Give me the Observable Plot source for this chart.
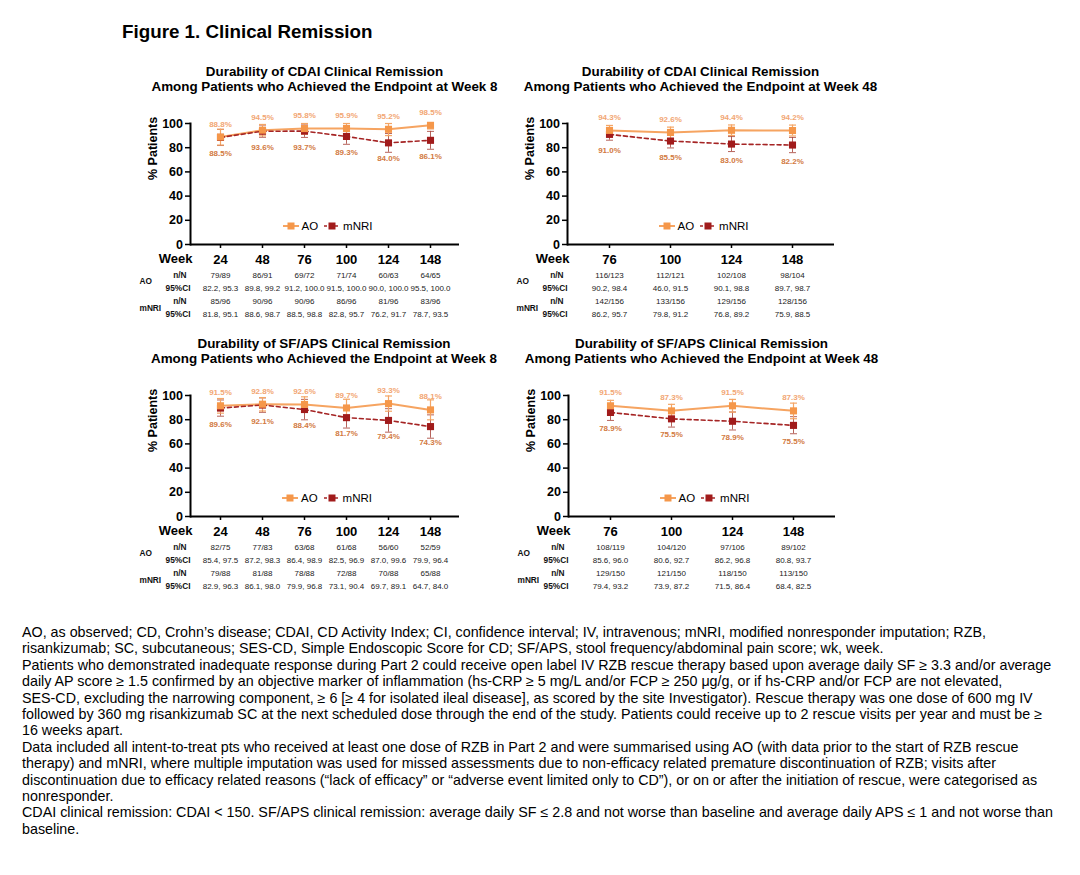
<!DOCTYPE html>
<html><head><meta charset="utf-8">
<script src="https://cdn.jsdelivr.net/npm/d3@7"></script>
<script src="https://cdn.jsdelivr.net/npm/@observablehq/plot@0.6"></script>
<style>
body{margin:0;background:#fff;font-family:"Liberation Sans",Arial,sans-serif;color:#000;}
#root{position:relative;width:1080px;height:875px;overflow:hidden;background:#fff;}
.abs{position:absolute;}
.fig-title{font-size:18.8px;font-weight:bold;line-height:22px;white-space:nowrap}
.ptitle{font-size:13.4px;font-weight:bold;line-height:15px;text-align:center;white-space:nowrap;transform:translateX(-50%)}
.legend{font-size:11.5px;display:flex;align-items:center;white-space:nowrap;transform:translate(-50%,-50%)}
.legend span{margin:0 6px 0 3px}
.notes{font-size:14.3px;line-height:16.4px;white-space:nowrap}
svg [aria-label="x-axis tick label"] text, svg [aria-label="y-axis tick label"] text{font-weight:bold}
</style></head><body><div id="root"></div>
<script>
// ---------- DATA ----------
const figureTitle = "Figure 1. Clinical Remission";

// Panel A: CDAI, achieved at week 8
const cdaiW8Title = ["Durability of CDAI Clinical Remission", "Among Patients who Achieved the Endpoint at Week 8"];
const cdaiW8Weeks = [24, 48, 76, 100, 124, 148];
const cdaiW8AO = [88.8, 94.5, 95.8, 95.9, 95.2, 98.5];
const cdaiW8AOLow = [82.2, 89.8, 91.2, 91.5, 90.0, 95.5];
const cdaiW8AOHigh = [95.3, 99.2, 100, 100, 100, 100];
const cdaiW8MNRI = [88.5, 93.6, 93.7, 89.3, 84.0, 86.1];
const cdaiW8MNRILow = [81.8, 88.6, 88.5, 82.8, 76.2, 78.7];
const cdaiW8MNRIHigh = [95.1, 98.7, 98.8, 95.7, 91.7, 93.5];
const cdaiW8AOnN = ["79/89", "86/91", "69/72", "71/74", "60/63", "64/65"];
const cdaiW8AOCI = ["82.2, 95.3", "89.8, 99.2", "91.2, 100.0", "91.5, 100.0", "90.0, 100.0", "95.5, 100.0"];
const cdaiW8MNRInN = ["85/96", "90/96", "90/96", "86/96", "81/96", "83/96"];
const cdaiW8MNRICI = ["81.8, 95.1", "88.6, 98.7", "88.5, 98.8", "82.8, 95.7", "76.2, 91.7", "78.7, 93.5"];

// Panel B: CDAI, achieved at week 48
const cdaiW48Title = ["Durability of CDAI Clinical Remission", "Among Patients who Achieved the Endpoint at Week 48"];
const cdaiW48Weeks = [76, 100, 124, 148];
const cdaiW48AO = [94.3, 92.6, 94.4, 94.2];
const cdaiW48AOLow = [90.2, 86.5, 90.1, 89.7];
const cdaiW48AOHigh = [98.4, 97.0, 98.8, 98.7];
const cdaiW48MNRI = [91.0, 85.5, 83.0, 82.2];
const cdaiW48MNRILow = [86.2, 79.8, 76.8, 75.9];
const cdaiW48MNRIHigh = [95.7, 91.2, 89.2, 88.5];
const cdaiW48AOnN = ["116/123", "112/121", "102/108", "98/104"];
const cdaiW48AOCI = ["90.2, 98.4", "46.0, 91.5", "90.1, 98.8", "89.7, 98.7"];
const cdaiW48MNRInN = ["142/156", "133/156", "129/156", "128/156"];
const cdaiW48MNRICI = ["86.2, 95.7", "79.8, 91.2", "76.8, 89.2", "75.9, 88.5"];

// Panel C: SF/APS, achieved at week 8
const sfW8Title = ["Durability of SF/APS Clinical Remission", "Among Patients who Achieved the Endpoint at Week 8"];
const sfW8Weeks = [24, 48, 76, 100, 124, 148];
const sfW8AO = [91.5, 92.8, 92.6, 89.7, 93.3, 88.1];
const sfW8AOLow = [85.4, 87.2, 86.4, 82.5, 87.0, 79.9];
const sfW8AOHigh = [97.5, 98.3, 98.9, 96.9, 99.6, 96.4];
const sfW8MNRI = [89.6, 92.1, 88.4, 81.7, 79.4, 74.3];
const sfW8MNRILow = [82.9, 86.1, 79.9, 73.1, 69.7, 64.7];
const sfW8MNRIHigh = [96.3, 98.0, 96.8, 90.4, 89.1, 84.0];
const sfW8AOnN = ["82/75", "77/83", "63/68", "61/68", "56/60", "52/59"];
const sfW8AOCI = ["85.4, 97.5", "87.2, 98.3", "86.4, 98.9", "82.5, 96.9", "87.0, 99.6", "79.9, 96.4"];
const sfW8MNRInN = ["79/88", "81/88", "78/88", "72/88", "70/88", "65/88"];
const sfW8MNRICI = ["82.9, 96.3", "86.1, 98.0", "79.9, 96.8", "73.1, 90.4", "69.7, 89.1", "64.7, 84.0"];

// Panel D: SF/APS, achieved at week 48
const sfW48Title = ["Durability of SF/APS Clinical Remission", "Among Patients who Achieved the Endpoint at Week 48"];
const sfW48Weeks = [76, 100, 124, 148];
const sfW48AO = [91.5, 87.3, 91.5, 87.3];
const sfW48AOLow = [85.6, 80.6, 86.2, 80.8];
const sfW48AOHigh = [96.0, 92.7, 96.8, 93.7];
const sfW48MNRI = [86.0, 80.7, 78.7, 75.3];
const sfW48MNRILabels = ["78.9%", "75.5%", "78.9%", "75.5%"];
const sfW48MNRILow = [79.4, 73.9, 71.5, 68.4];
const sfW48MNRIHigh = [93.2, 87.2, 86.4, 82.5];
const sfW48AOnN = ["108/119", "104/120", "97/106", "89/102"];
const sfW48AOCI = ["85.6, 96.0", "80.6, 92.7", "86.2, 96.8", "80.8, 93.7"];
const sfW48MNRInN = ["129/150", "121/150", "118/150", "113/150"];
const sfW48MNRICI = ["79.4, 93.2", "73.9, 87.2", "71.5, 86.4", "68.4, 82.5"];

const yTicks = [0, 20, 40, 60, 80, 100];
const seriesNames = ["AO", "mNRI"];

const footnotes = [
  "AO, as observed; CD, Crohn’s disease; CDAI, CD Activity Index; CI, confidence interval; IV, intravenous; mNRI, modified nonresponder imputation; RZB,",
  "risankizumab; SC, subcutaneous; SES-CD, Simple Endoscopic Score for CD; SF/APS, stool frequency/abdominal pain score; wk, week.",
  "Patients who demonstrated inadequate response during Part 2 could receive open label IV RZB rescue therapy based upon average daily SF ≥ 3.3 and/or average",
  "daily AP score ≥ 1.5 confirmed by an objective marker of inflammation (hs-CRP ≥ 5 mg/L and/or FCP ≥ 250 μg/g, or if hs-CRP and/or FCP are not elevated,",
  "SES-CD, excluding the narrowing component, ≥ 6 [≥ 4 for isolated ileal disease], as scored by the site Investigator). Rescue therapy was one dose of 600 mg IV",
  "followed by 360 mg risankizumab SC at the next scheduled dose through the end of the study. Patients could receive up to 2 rescue visits per year and must be ≥",
  "16 weeks apart.",
  "Data included all intent-to-treat pts who received at least one dose of RZB in Part 2 and were summarised using AO (with data prior to the start of RZB rescue",
  "therapy) and mNRI, where multiple imputation was used for missed assessments due to non-efficacy related premature discontinuation of RZB; visits after",
  "discontinuation due to efficacy related reasons (“lack of efficacy” or “adverse event limited only to CD”), or on or after the initiation of rescue, were categorised as",
  "nonresponder.",
  "CDAI clinical remission: CDAI < 150. SF/APS clinical remission: average daily SF ≤ 2.8 and not worse than baseline and average daily APS ≤ 1 and not worse than",
  "baseline."
];

// ---------- STYLE ----------
const AO_C = "#F5974A", AO_LINE = "#F6A461", AO_BAR = "#F4A666", AO_TXT = "#F2A673";
const MN_C = "#A11B1B", MN_LINE = "#A52424", MN_BAR = "#A9483E", MN_TXT = "#D27A3F";
const FONT = "'Liberation Sans', Arial, sans-serif";

const root = document.getElementById("root");
function addDiv(cls, left, top, html) {
  const d = document.createElement("div");
  d.className = "abs " + cls;
  d.style.left = left + "px"; d.style.top = top + "px";
  d.innerHTML = html;
  root.appendChild(d);
  return d;
}
addDiv("fig-title", 122, 21, figureTitle);

const capSymbol = {draw(ctx, size) { const w = Math.sqrt(size / Math.PI); ctx.moveTo(-w, 0); ctx.lineTo(w, 0); }};

function legendHTML() {
  const aoMark = `<svg width="16" height="10"><line x1="0" y1="5" x2="16" y2="5" stroke="${AO_LINE}" stroke-width="2"/><rect x="4.5" y="1.5" width="7" height="7" fill="${AO_C}"/></svg>`;
  const mnMark = `<svg width="16" height="10"><line x1="0" y1="5" x2="16" y2="5" stroke="${MN_LINE}" stroke-width="1.5" stroke-dasharray="3,2.5"/><rect x="4.5" y="1.5" width="7" height="7" fill="${MN_C}"/></svg>`;
  return `${aoMark}<span>${seriesNames[0]}</span>${mnMark}<span>${seriesNames[1]}</span>`;
}

function panel(cfg) {
  const {left, top, marginRight, title, weeks, ao, aoLo, aoHi, mn, mnLo, mnHi, aoNN, aoCI, mnNN, mnCI} = cfg;
  const aoLab = cfg.aoLabels || ao.map(v => v.toFixed(1) + "%");
  const mnLab = cfg.mnLabels || mn.map(v => v.toFixed(1) + "%");
  const rows = weeks.map((w, i) => ({week: w, ao: ao[i], aoLo: aoLo[i], aoHi: aoHi[i], mn: mn[i], mnLo: mnLo[i], mnHi: mnHi[i],
    aoLab: aoLab[i], mnLab: mnLab[i], aoNN: aoNN[i], aoCI: aoCI[i], mnNN: mnNN[i], mnCI: mnCI[i]}));
  const W = 400, mL = 90, mT = 28, mB = 84, frameH = 121, H = mT + frameH + mB;
  const tbl = {fontSize: 8, fontWeight: "normal", fill: "#222", frameAnchor: "bottom"};
  const lbl = {fontSize: 8.3, fontWeight: "bold", fill: "#111", frameAnchor: "bottom-left"};
  const chart = Plot.plot({
    width: W, height: H, marginLeft: mL, marginRight, marginTop: mT, marginBottom: mB,
    style: {fontFamily: FONT, overflow: "visible", background: "transparent"},
    x: {type: "point", domain: weeks, padding: 0.68},
    y: {domain: [0, 100]},
    marks: [
      Plot.axisY({ticks: yTicks, tickSize: 5, tickPadding: 2.5, fontSize: 12.5, fontWeight: "bold", strokeWidth: 1.5, label: null, fill: "#000"}),
      Plot.axisX({tickSize: 4, tickPadding: 6.5, fontSize: 13, fontWeight: "bold", strokeWidth: 1.5, label: null, fill: "#000"}),
      Plot.frame({anchor: "left", stroke: "#000", strokeWidth: 2}),
      Plot.ruleY([0], {stroke: "#000", strokeWidth: 2}),
      Plot.text(["% Patients"], {text: d => d, frameAnchor: "left", rotate: -90, dx: -38, dy: -4, fontSize: 12.5, fontWeight: "bold", fill: "#000"}),
      // error bars
      Plot.ruleX(rows, {x: "week", y1: "mnLo", y2: "mnHi", stroke: MN_BAR, strokeWidth: 1, strokeOpacity: 0.85}),
      Plot.dot(rows, {x: "week", y: "mnLo", symbol: capSymbol, r: 3.5, fill: "none", stroke: MN_BAR, strokeWidth: 1, strokeOpacity: 0.85}),
      Plot.dot(rows, {x: "week", y: "mnHi", symbol: capSymbol, r: 3.5, fill: "none", stroke: MN_BAR, strokeWidth: 1, strokeOpacity: 0.85}),
      Plot.ruleX(rows, {x: "week", y1: "aoLo", y2: "aoHi", stroke: AO_BAR, strokeWidth: 1.2}),
      Plot.dot(rows, {x: "week", y: "aoLo", symbol: capSymbol, r: 3.5, fill: "none", stroke: AO_BAR, strokeWidth: 1.2}),
      Plot.dot(rows, {x: "week", y: "aoHi", symbol: capSymbol, r: 3.5, fill: "none", stroke: AO_BAR, strokeWidth: 1.2}),
      // lines
      Plot.line(rows, {x: "week", y: "ao", stroke: AO_LINE, strokeWidth: 2}),
      Plot.line(rows, {x: "week", y: "mn", stroke: MN_LINE, strokeWidth: 1.6, strokeDasharray: "4,3"}),
      Plot.dot(rows, {x: "week", y: "mn", symbol: "square", r: 4, fill: MN_C}),
      Plot.dot(rows, {x: "week", y: "ao", symbol: "square", r: 4, fill: AO_C}),
      // value labels
      Plot.text(rows, {x: "week", y: "ao", text: "aoLab", dy: -13, fontSize: 8, fontWeight: "bold", fill: AO_TXT}),
      Plot.text(rows, {x: "week", y: "mn", text: "mnLab", dy: 16, fontSize: 8, fontWeight: "bold", fill: MN_TXT}),
      // table below axis
      Plot.text(["Week"], {text: d => d, frameAnchor: "bottom-left", textAnchor: "end", dx: 2, dy: 18, fontSize: 13, fontWeight: "bold", fill: "#000"}),
      Plot.text(["n/N"], {text: d => d, ...lbl, textAnchor: "end", dx: -4, dy: 33.5}),
      Plot.text(["95%CI"], {text: d => d, ...lbl, textAnchor: "end", dx: 0, dy: 46}),
      Plot.text(["n/N"], {text: d => d, ...lbl, textAnchor: "end", dx: -4, dy: 59.5}),
      Plot.text(["95%CI"], {text: d => d, ...lbl, textAnchor: "end", dx: 0, dy: 72.5}),
      Plot.text([seriesNames[0]], {text: d => d, ...lbl, dx: -51, dy: 39.5}),
      Plot.text([seriesNames[1]], {text: d => d, ...lbl, dx: -51, dy: 66}),
      Plot.text(rows, {x: "week", text: "aoNN", ...tbl, dy: 33.5}),
      Plot.text(rows, {x: "week", text: "aoCI", ...tbl, dy: 46}),
      Plot.text(rows, {x: "week", text: "mnNN", ...tbl, dy: 59.5}),
      Plot.text(rows, {x: "week", text: "mnCI", ...tbl, dy: 72.5})
    ]
  });
  chart.style.position = "absolute";
  chart.style.left = left + "px";
  chart.style.top = top + "px";
  root.appendChild(chart);
  const cx = left + mL + (W - mL - marginRight) / 2;
  addDiv("ptitle", cx, top - 31.5, title[0] + "<br>" + title[1]);
  addDiv("legend", cx + 6, top + mT + frameH - 18, legendHTML());
}

panel({left: 100, top: 95.3, marginRight: 41, title: cdaiW8Title, weeks: cdaiW8Weeks,
  ao: cdaiW8AO, aoLo: cdaiW8AOLow, aoHi: cdaiW8AOHigh, mn: cdaiW8MNRI, mnLo: cdaiW8MNRILow, mnHi: cdaiW8MNRIHigh,
  aoNN: cdaiW8AOnN, aoCI: cdaiW8AOCI, mnNN: cdaiW8MNRInN, mnCI: cdaiW8MNRICI});
panel({left: 477, top: 95.3, marginRight: 43, title: cdaiW48Title, weeks: cdaiW48Weeks,
  ao: cdaiW48AO, aoLo: cdaiW48AOLow, aoHi: cdaiW48AOHigh, mn: cdaiW48MNRI, mnLo: cdaiW48MNRILow, mnHi: cdaiW48MNRIHigh,
  aoNN: cdaiW48AOnN, aoCI: cdaiW48AOCI, mnNN: cdaiW48MNRInN, mnCI: cdaiW48MNRICI});
panel({left: 99.5, top: 367, marginRight: 41, title: sfW8Title, weeks: sfW8Weeks,
  ao: sfW8AO, aoLo: sfW8AOLow, aoHi: sfW8AOHigh, mn: sfW8MNRI, mnLo: sfW8MNRILow, mnHi: sfW8MNRIHigh,
  aoNN: sfW8AOnN, aoCI: sfW8AOCI, mnNN: sfW8MNRInN, mnCI: sfW8MNRICI});
panel({left: 478, top: 367, marginRight: 43, title: sfW48Title, weeks: sfW48Weeks,
  ao: sfW48AO, aoLo: sfW48AOLow, aoHi: sfW48AOHigh, mn: sfW48MNRI, mnLo: sfW48MNRILow, mnHi: sfW48MNRIHigh, mnLabels: sfW48MNRILabels,
  aoNN: sfW48AOnN, aoCI: sfW48AOCI, mnNN: sfW48MNRInN, mnCI: sfW48MNRICI});

addDiv("notes", 22, 624, footnotes.map(s => `<div>${s.replace(/</g, "&lt;")}</div>`).join(""));
</script></body></html>
